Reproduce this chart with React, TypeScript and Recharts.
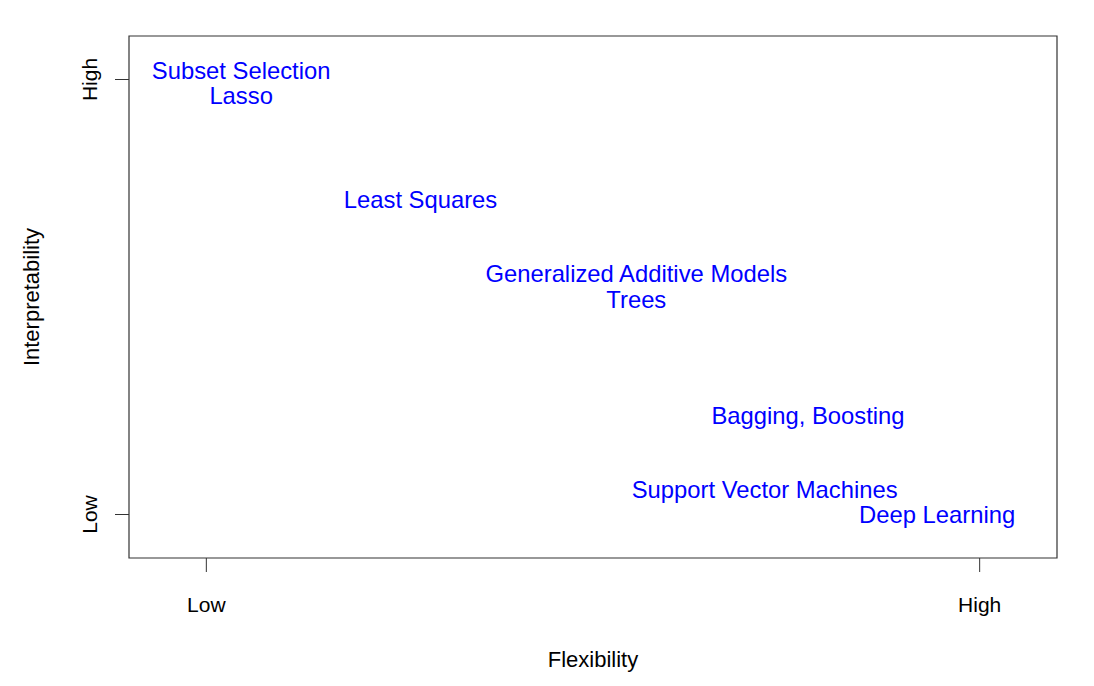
import React from "react";
import { ReferenceArea, Scatter, ScatterChart, XAxis, YAxis } from "recharts";

const methods = [
  "Subset Selection",
  "Lasso",
  "Least Squares",
  "Generalized Additive Models",
  "Trees",
  "Bagging, Boosting",
  "Support Vector Machines",
  "Deep Learning",
];
const flexibility = [0.045, 0.045, 0.277, 0.556, 0.556, 0.778, 0.722, 0.945];
const interpretability = [1.02, 0.963, 0.725, 0.555, 0.494, 0.227, 0.058, 0.0];

const axisTicks = [0, 1];
const axisTickLabels = ["Low", "High"];

const data = methods.map((name, i) => ({
  name,
  x: flexibility[i],
  y: interpretability[i],
}));

const FONT = "'Liberation Sans', Arial, Helvetica, sans-serif";

function XTick({ x, y, payload }: any) {
  return (
    <text x={x} y={y} dy={30} textAnchor="middle" dominantBaseline="central" fontSize={21} fill="#000" fontFamily={FONT}>
      {axisTickLabels[axisTicks.indexOf(payload.value)]}
    </text>
  );
}

function YTick({ x, y, payload }: any) {
  const cx = x - 24;
  return (
    <text
      x={cx}
      y={y}
      textAnchor="middle"
      dominantBaseline="central"
      fontSize={21}
      fill="#000"
      fontFamily={FONT}
      transform={`rotate(-90, ${cx}, ${y})`}
    >
      {axisTickLabels[axisTicks.indexOf(payload.value)]}
    </text>
  );
}

function MethodLabel(props: any) {
  const { cx, cy, payload } = props;
  return (
    <text x={cx} y={cy} textAnchor="middle" dominantBaseline="central" fontSize={23.8} fill="#0000ff" fontFamily={FONT}>
      {payload.name}
    </text>
  );
}

export default function App() {
  return (
    <div style={{ position: "absolute", left: 0, top: 0, background: "#fff" }}>
      <ScatterChart width={1094} height={686} margin={{ top: 36, right: 37, left: 69, bottom: 68 }}>
        <XAxis
          type="number"
          dataKey="x"
          domain={[-0.1, 1.1]}
          ticks={axisTicks}
          allowDataOverflow
          axisLine={false}
          tickSize={14}
          tickLine={{ stroke: "#333" }}
          tick={<XTick />}
          height={60}
          label={{ value: "Flexibility", position: "insideBottom", offset: -49, fontSize: 22, fill: "#000", fontFamily: FONT }}
        />
        <YAxis
          type="number"
          dataKey="y"
          domain={[-0.1, 1.1]}
          ticks={axisTicks}
          allowDataOverflow
          axisLine={false}
          tickSize={14}
          tickLine={{ stroke: "#333" }}
          tick={<YTick />}
          width={60}
          label={{ value: "Interpretability", angle: -90, position: "insideLeft", offset: -38, fontSize: 22, fill: "#000", fontFamily: FONT, style: { textAnchor: "middle" } }}
        />
        <ReferenceArea x1={-0.1} x2={1.1} y1={-0.1} y2={1.1} fill="none" stroke="#333" strokeWidth={1.2} />
        <Scatter data={data} shape={<MethodLabel />} isAnimationActive={false} />
      </ScatterChart>
    </div>
  );
}
